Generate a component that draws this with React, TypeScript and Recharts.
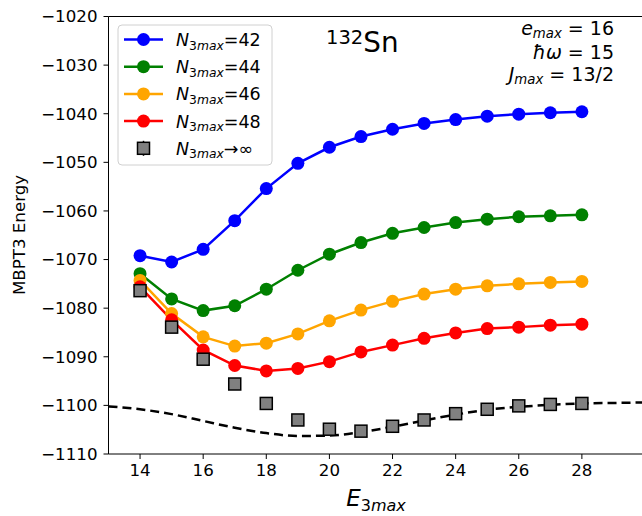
import React from "react";
import {
  ComposedChart,
  Line,
  XAxis,
  YAxis,
  ReferenceLine,
} from "recharts";

// E3max grid of the calculations
const e3max = [14, 15, 16, 17, 18, 19, 20, 21, 22, 23, 24, 25, 26, 27, 28];

const n42 = [-1069.2, -1070.5, -1067.9, -1062.0, -1055.4, -1050.2, -1046.9, -1044.7, -1043.2, -1042.0, -1041.2, -1040.5, -1040.1, -1039.8, -1039.6];
const n44 = [-1072.9, -1078.1, -1080.5, -1079.5, -1076.1, -1072.2, -1068.9, -1066.5, -1064.6, -1063.4, -1062.4, -1061.7, -1061.2, -1061.0, -1060.8];
const n46 = [-1074.3, -1081.1, -1085.9, -1087.8, -1087.2, -1085.3, -1082.6, -1080.4, -1078.6, -1077.1, -1076.1, -1075.4, -1075.0, -1074.7, -1074.5];
const n48 = [-1075.6, -1082.4, -1088.6, -1091.8, -1092.9, -1092.4, -1091.0, -1089.0, -1087.6, -1086.2, -1085.1, -1084.2, -1083.9, -1083.5, -1083.3];
const extrap = [-1076.4, -1083.9, -1090.5, -1095.6, -1099.6, -1103.0, -1104.9, -1105.3, -1104.3, -1103.0, -1101.7, -1100.8, -1100.1, -1099.8, -1099.6];

// dashed fit curve, read at integer E3max
const fitX = [13, 14, 15, 16, 17, 18, 19, 20, 21, 22, 23, 24, 25, 26, 27, 28, 29, 30];
const fitY = [-1100.2, -1100.8, -1101.8, -1103.2, -1104.6, -1105.7, -1106.3, -1106.2, -1105.5, -1104.4, -1103.1, -1101.9, -1100.9, -1100.3, -1099.9, -1099.6, -1099.5, -1099.4];

const xTicks = [14, 16, 18, 20, 22, 24, 26, 28];
const yTicks = [-1110, -1100, -1090, -1080, -1070, -1060, -1050, -1040, -1030, -1020];

const series = [
  { key: "n42", label: "=42", color: "#0000ff", values: n42 },
  { key: "n44", label: "=44", color: "#008000", values: n44 },
  { key: "n46", label: "=46", color: "#ffa500", values: n46 },
  { key: "n48", label: "=48", color: "#ff0000", values: n48 },
];

const data = fitX.map((x, i) => {
  const row: Record<string, number | undefined> = { x, fit: fitY[i] };
  const j = e3max.indexOf(x);
  series.forEach((s) => {
    row[s.key] = j >= 0 ? s.values[j] : undefined;
  });
  row.extrap = j >= 0 ? extrap[j] : undefined;
  return row;
});

const FONT = "DejaVu Sans";
const fmt = (v: number) => (v < 0 ? "\u2212" + Math.abs(v) : String(v));

const SquareDot = (props: any) => {
  const { cx, cy, index } = props;
  if (cx == null || cy == null) return <g key={`sq-${index}`} />;
  return (
    <rect
      key={`sq-${index}`}
      x={cx - 6}
      y={cy - 6}
      width={12}
      height={12}
      fill="#808080"
      stroke="#000"
      strokeWidth={1.5}
    />
  );
};

function Overlay() {
  const rowY = (i: number) => 39.5 + i * 27.2;
  const fs = 19;
  const sub = 13.3;
  return (
    <svg
      width={642}
      height={516}
      style={{ position: "absolute", left: 0, top: 0, pointerEvents: "none" }}
      fontFamily={FONT}
    >
      {/* legend */}
      <rect x={118} y={25} width={154} height={140} rx={4} fill="#fff" fillOpacity={0.8} stroke="#d0d0d0" />
      {series.map((s, i) => (
        <g key={s.key}>
          <line x1={124} x2={163} y1={rowY(i)} y2={rowY(i)} stroke={s.color} strokeWidth={2.5} />
          <circle cx={143.5} cy={rowY(i)} r={6.5} fill={s.color} />
          <text x={176} y={rowY(i) + 6.5} fontSize={17.5}>
            <tspan fontStyle="italic">N</tspan>
            <tspan fontSize={12.3} dy={3.5}>3</tspan>
            <tspan fontSize={12.3} fontStyle="italic">max</tspan>
            <tspan dy={-3.5}>{s.label}</tspan>
          </text>
        </g>
      ))}
      <line x1={143.5} x2={143.5} y1={rowY(4) - 7.5} y2={rowY(4) + 7.5} stroke="#000" strokeWidth={1.5} />
      <rect x={137.5} y={rowY(4) - 6} width={12} height={12} fill="#808080" stroke="#000" strokeWidth={1.5} />
      <text x={176} y={rowY(4) + 6.5} fontSize={17.5}>
        <tspan fontStyle="italic">N</tspan>
        <tspan fontSize={12.3} dy={3.5}>3</tspan>
        <tspan fontSize={12.3} fontStyle="italic">max</tspan>
        <tspan dy={-3.5}>{"\u2192\u221e"}</tspan>
      </text>

      {/* nucleus */}
      <text x={326} y={51.7} fontSize={27.8}>
        <tspan fontSize={19.5} dy={-7.5}>132</tspan>
        <tspan dy={7.5}>Sn</tspan>
      </text>

      {/* parameters */}
      <text x={614} y={34.5} fontSize={fs} textAnchor="end" xmlSpace="preserve">
        <tspan fontStyle="italic">e</tspan>
        <tspan fontSize={sub} fontStyle="italic" dy={3}>max</tspan>
        <tspan dy={-3}>{" = 16"}</tspan>
      </text>
      <text x={614} y={58.5} fontSize={fs} textAnchor="end" xmlSpace="preserve">
        <tspan fontStyle="italic">{"\u0127\u03c9"}</tspan>
        <tspan>{" = 15"}</tspan>
      </text>
      <text x={614} y={80.5} fontSize={fs} textAnchor="end" xmlSpace="preserve">
        <tspan fontStyle="italic">J</tspan>
        <tspan fontSize={sub} fontStyle="italic" dy={3}>max</tspan>
        <tspan dy={-3}>{" = 13/2"}</tspan>
      </text>

      {/* axis labels */}
      <text x={25} y={235} fontSize={16.67} textAnchor="middle" transform="rotate(-90 25 235)">
        MBPT3 Energy
      </text>
      <text x={376} y={506} fontSize={23} textAnchor="middle">
        <tspan fontStyle="italic">E</tspan>
        <tspan fontSize={16} dy={4.5}>3</tspan>
        <tspan fontSize={16} fontStyle="italic">max</tspan>
      </text>
    </svg>
  );
}

export default function App() {
  return (
    <div style={{ position: "absolute", left: 0, top: 0, width: 642, height: 516, background: "#fff" }}>
      <ComposedChart
        width={642}
        height={516}
        data={data}
        margin={{ top: 16.5, right: -3, bottom: 0, left: 8.5 }}
      >
        <XAxis
          dataKey="x"
          type="number"
          domain={[13, 30]}
          ticks={xTicks}
          allowDataOverflow
          height={62}
          stroke="#000"
          tickSize={5}
          tickMargin={5}
          tick={{ fill: "#000", fontSize: 16.67, fontFamily: FONT }}
        />
        <YAxis
          type="number"
          domain={[-1110, -1020]}
          ticks={yTicks}
          allowDataOverflow
          width={100}
          stroke="#000"
          tickSize={5}
          tickMargin={6}
          tickFormatter={fmt}
          tick={{ fill: "#000", fontSize: 16.67, fontFamily: FONT }}
        />
        <ReferenceLine y={-1020} stroke="#000" strokeWidth={1} />
        {series.map((s) => (
          <Line
            key={s.key}
            dataKey={s.key}
            type="linear"
            stroke={s.color}
            strokeWidth={2.5}
            dot={{ r: 6.5, fill: s.color, stroke: "none" }}
            activeDot={false}
            isAnimationActive={false}
          />
        ))}
        <Line
          dataKey="fit"
          type="monotone"
          stroke="#000"
          strokeWidth={2.5}
          strokeDasharray="9 5"
          dot={false}
          activeDot={false}
          isAnimationActive={false}
        />
        <Line
          dataKey="extrap"
          stroke="none"
          dot={SquareDot}
          activeDot={false}
          isAnimationActive={false}
        />
      </ComposedChart>
      <Overlay />
    </div>
  );
}
